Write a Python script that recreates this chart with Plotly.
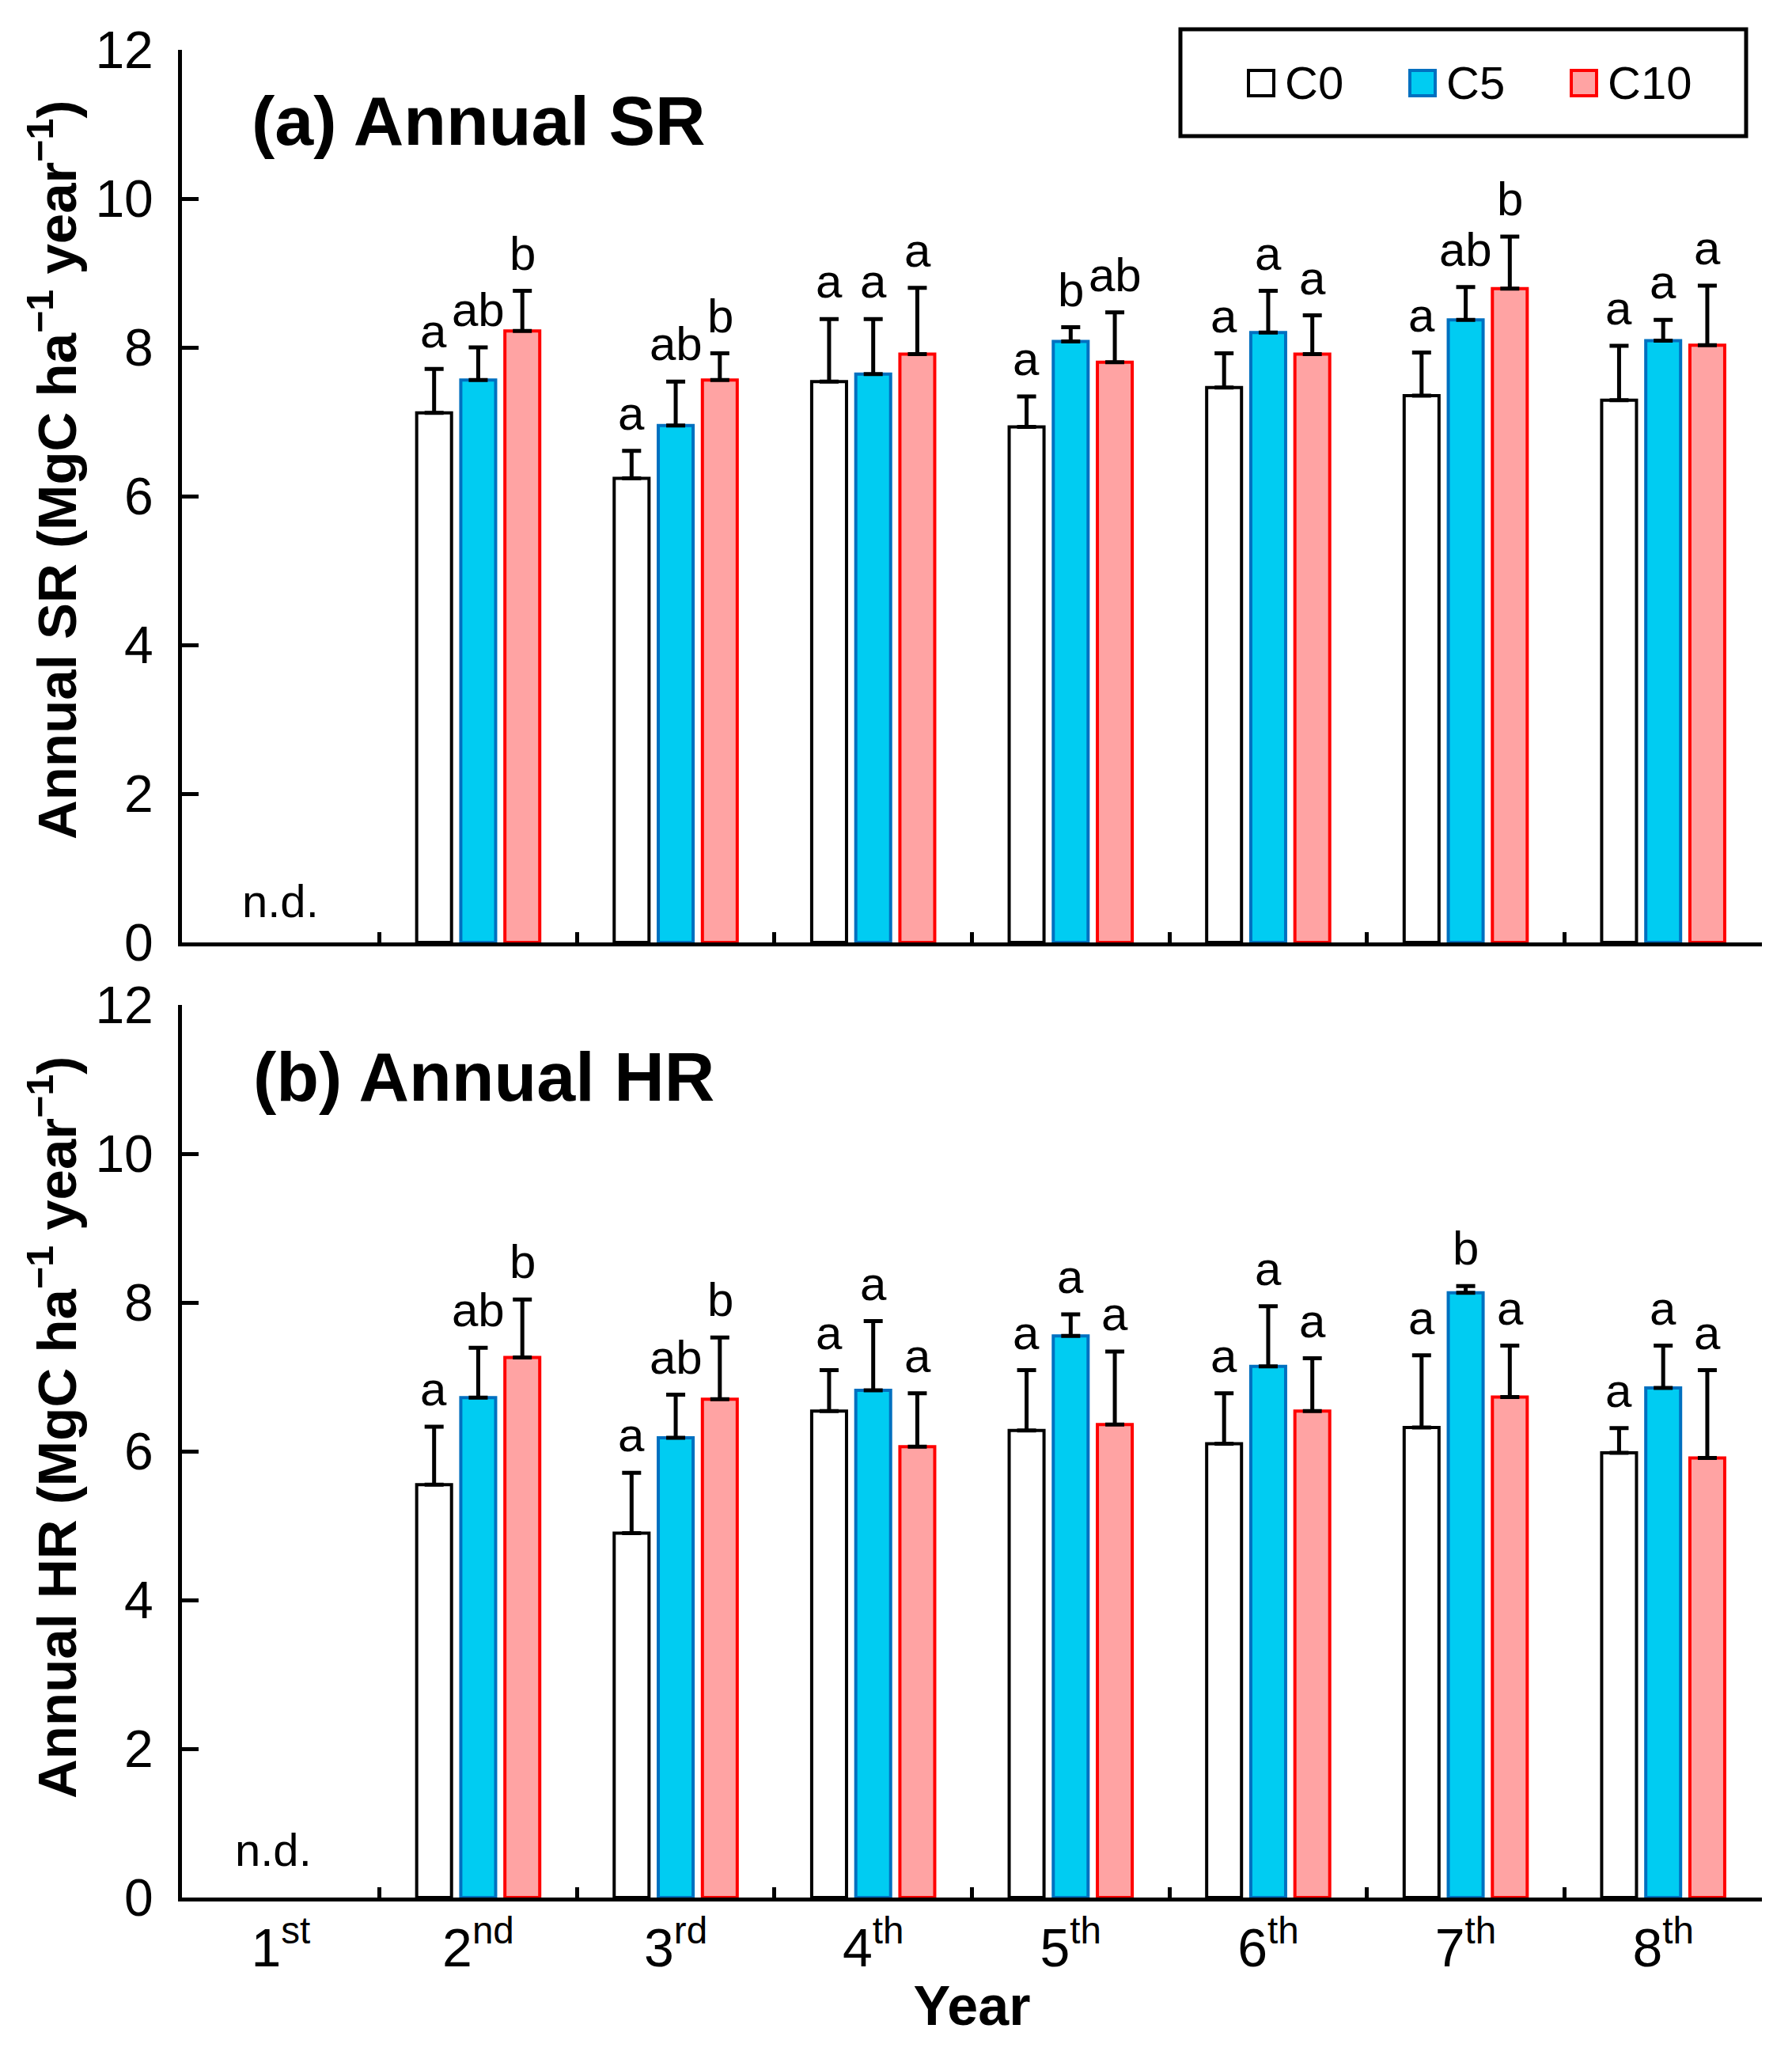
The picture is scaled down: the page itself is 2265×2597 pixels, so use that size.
import plotly.graph_objects as go

years = ["1st", "2nd", "3rd", "4th", "5th", "6th", "7th", "8th"]
year_ticks = ["1<sup>st</sup>", "2<sup>nd</sup>", "3<sup>rd</sup>", "4<sup>th</sup>",
              "5<sup>th</sup>", "6<sup>th</sup>", "7<sup>th</sup>", "8<sup>th</sup>"]
treatments = ["C0", "C5", "C10"]

# (a) annual soil respiration, mean and upper error (1st year not determined)
sr_c0 = [None, 7.12, 6.24, 7.54, 6.93, 7.46, 7.35, 7.29]
sr_c0_err = [0, 0.59, 0.37, 0.84, 0.41, 0.46, 0.58, 0.73]
sr_c5 = [None, 7.56, 6.95, 7.64, 8.08, 8.20, 8.37, 8.09]
sr_c5_err = [0, 0.44, 0.59, 0.74, 0.19, 0.56, 0.44, 0.28]
sr_c10 = [None, 8.22, 7.56, 7.91, 7.80, 7.91, 8.79, 8.03]
sr_c10_err = [0, 0.54, 0.36, 0.89, 0.67, 0.52, 0.70, 0.80]
sr_c0_lab = ["", "a", "a", "a", "a", "a", "a", "a"]
sr_c5_lab = ["", "ab", "ab", "a", "b", "a", "ab", "a"]
sr_c10_lab = ["", "b", "b", "a", "ab", "a", "b", "a"]

# (b) annual heterotrophic respiration
hr_c0 = [None, 5.55, 4.90, 6.54, 6.28, 6.10, 6.32, 5.98]
hr_c0_err = [0, 0.78, 0.81, 0.55, 0.81, 0.68, 0.97, 0.33]
hr_c5 = [None, 6.72, 6.18, 6.82, 7.55, 7.14, 8.13, 6.85]
hr_c5_err = [0, 0.67, 0.58, 0.93, 0.29, 0.81, 0.09, 0.57]
hr_c10 = [None, 7.26, 6.70, 6.06, 6.36, 6.54, 6.73, 5.91]
hr_c10_err = [0, 0.78, 0.83, 0.72, 0.98, 0.71, 0.69, 1.18]
hr_c0_lab = ["", "a", "a", "a", "a", "a", "a", "a"]
hr_c5_lab = ["", "ab", "ab", "a", "a", "a", "b", "a"]
hr_c10_lab = ["", "b", "b", "a", "a", "a", "a", "a"]

fills = ["#FFFFFF", "#00CCF2", "#FFA3A3"]
edges = ["#000000", "#0070C0", "#FF0000"]

FONT = "Liberation Sans, Arial, sans-serif"
W, H = 2265, 2597
L, R, T, B = 230, 38, 63, 199
PW, PH = W - L - R, H - T - B
SLOT = 56  # px between neighbouring bars of a group


def fx(px):
    return (px - L) / PW


def fy(py):
    return 1 - (py - T) / PH


fig = go.Figure()

panels = [
    ("x", "y", [sr_c0, sr_c5, sr_c10], [sr_c0_err, sr_c5_err, sr_c10_err],
     [sr_c0_lab, sr_c5_lab, sr_c10_lab]),
    ("x2", "y2", [hr_c0, hr_c5, hr_c10], [hr_c0_err, hr_c5_err, hr_c10_err],
     [hr_c0_lab, hr_c5_lab, hr_c10_lab]),
]

annotations = []
for xa, ya, means, errs, labs in panels:
    for i, name in enumerate(treatments):
        fig.add_trace(go.Bar(
            x=years, y=means[i], name=name, xaxis=xa, yaxis=ya,
            marker=dict(color=fills[i], line=dict(color=edges[i], width=4)),
            error_y=dict(type="data", symmetric=False, array=errs[i],
                         arrayminus=[0] * len(years), color="black",
                         thickness=5, width=12),
            showlegend=False,
        ))
        for yr, m, e, t in zip(years, means[i], errs[i], labs[i]):
            if m is None:
                continue
            annotations.append(dict(
                x=yr, y=m + e, xref=xa, yref=ya, text=t, showarrow=False,
                xshift=(i - 1) * SLOT, yshift=12, yanchor="bottom",
                font=dict(size=60, color="black", family=FONT)))
    annotations.append(dict(
        x=years[0], y=0, xref=xa, yref=ya, text="n.d.", showarrow=False,
        yanchor="bottom", yshift=18 if xa == "x" else 26,
        xshift=0 if xa == "x" else -9,
        font=dict(size=58, color="black", family=FONT)))

annotations.append(dict(x=fx(316), y=fy(153), xref="paper", yref="paper",
                        xanchor="left", yanchor="middle", showarrow=False,
                        text="<b>(a) Annual SR</b>",
                        font=dict(size=88, color="black", family=FONT)))
annotations.append(dict(x=fx(318), y=fy(1360), xref="paper", yref="paper",
                        xanchor="left", yanchor="middle", showarrow=False,
                        text="<b>(b) Annual HR</b>",
                        font=dict(size=88, color="black", family=FONT)))

# y-axis titles, placed as rotated text
for txt, cy in [("SR", 594), ("HR", 1804)]:
    annotations.append(dict(
        x=fx(67), y=fy(cy), xref="paper", yref="paper", textangle=-90,
        xanchor="center", yanchor="middle", showarrow=False,
        text="<b>Annual " + txt + " (MgC ha<sup>\u22121</sup> year<sup>\u22121</sup>)</b>",
        font=dict(size=69, color="black", family=FONT)))

# legend drawn by hand (box with large square swatches)
shapes = [dict(type="rect", xref="paper", yref="paper",
               x0=fx(1492), x1=fx(2207), y0=fy(172), y1=fy(37),
               line=dict(color="black", width=5), fillcolor="white")]
sw_x = [1578, 1782, 1986]
for i, name in enumerate(treatments):
    shapes.append(dict(type="rect", xref="paper", yref="paper",
                       x0=fx(sw_x[i]), x1=fx(sw_x[i] + 32),
                       y0=fy(121), y1=fy(89),
                       line=dict(color=edges[i], width=4), fillcolor=fills[i]))
    annotations.append(dict(x=fx(sw_x[i] + 44), y=fy(104), xref="paper", yref="paper",
                            xanchor="left", yanchor="middle", showarrow=False,
                            text=name, font=dict(size=58, color="black", family=FONT)))

axis_common = dict(showline=True, linecolor="black", linewidth=5,
                   ticks="inside", tickcolor="black", tickwidth=5,
                   showgrid=False, zeroline=False,
                   tickfont=dict(size=66, color="black", family=FONT))

xcommon = dict(axis_common, type="category", categoryorder="array",
               categoryarray=years, tickson="boundaries", ticklen=13,
               tickvals=years, ticktext=year_ticks,
               tickfont=dict(size=68, color="black", family=FONT))
ycommon = dict(axis_common, range=[0, 12], tickvals=[0, 2, 4, 6, 8, 10, 12],
               ticklen=21, ticklabelstandoff=18)

top_y0 = fy(1191)
bot_y1 = fy(1270)

fig.update_layout(
    width=W, height=H,
    margin=dict(l=L, r=R, t=T, b=B),
    paper_bgcolor="white", plot_bgcolor="white",
    font=dict(family=FONT, color="black"),
    barmode="group", bargap=0.33, bargroupgap=0.21,
    xaxis=dict(xcommon, anchor="y", showticklabels=False),
    yaxis=dict(ycommon, domain=[top_y0, 1], anchor="x"),
    xaxis2=dict(xcommon, anchor="y2",
                title=dict(text="<b>Year</b>", standoff=14,
                           font=dict(size=70, color="black", family=FONT))),
    yaxis2=dict(ycommon, domain=[0, bot_y1], anchor="x2"),
    annotations=annotations,
    shapes=shapes,
)

fig.write_html("out.html", config={"displayModeBar": False},
               post_script="document.body.style.margin='0';")
